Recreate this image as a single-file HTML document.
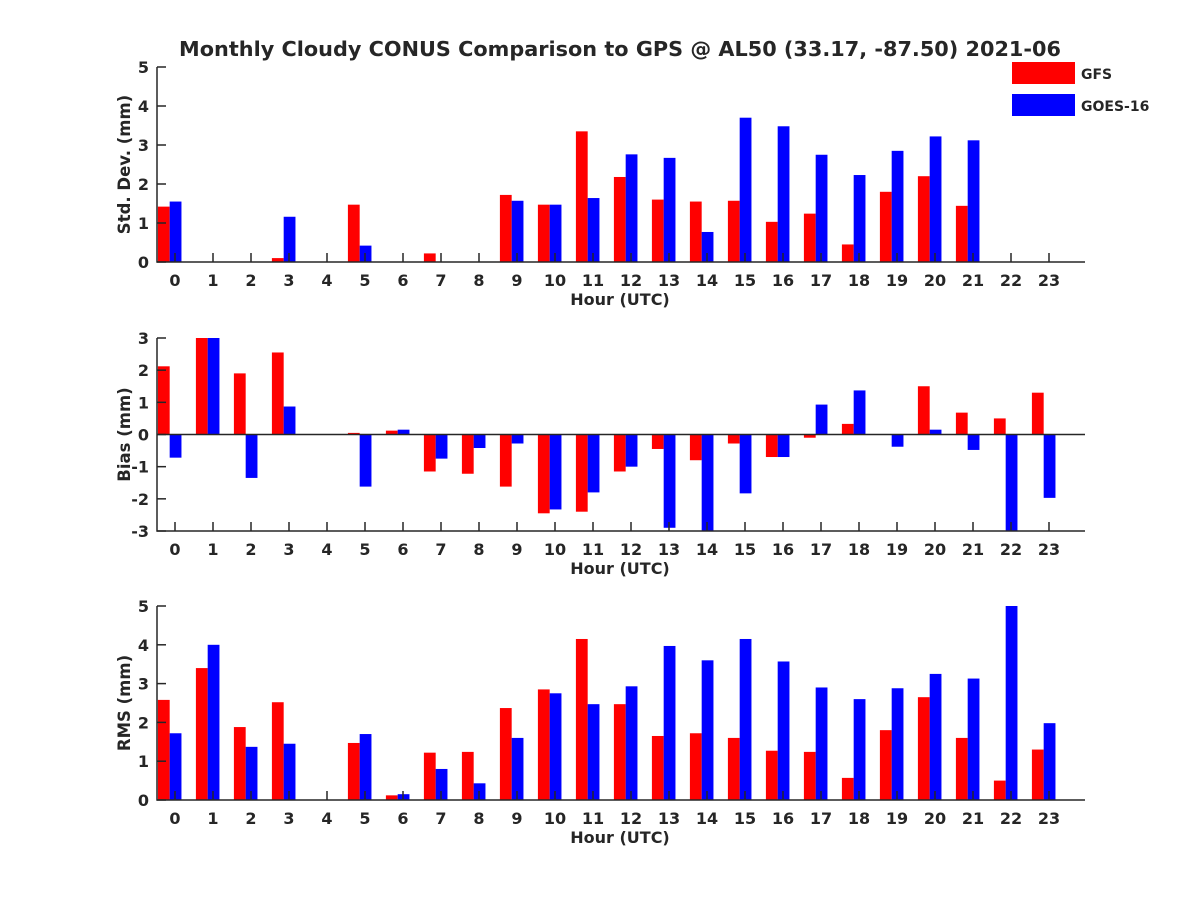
<!DOCTYPE html>
<html><head><meta charset="utf-8"><style>body{margin:0;background:#fff}svg{display:block}text{font-family:"DejaVu Sans","Liberation Sans",sans-serif;font-weight:bold;fill:#262626}</style></head>
<body>
<svg id="c" width="1200" height="900" xmlns="http://www.w3.org/2000/svg">
<text x="620" y="56" font-size="20.8" text-anchor="middle">Monthly Cloudy CONUS Comparison to GPS @ AL50 (33.17, -87.50) 2021-06</text>
<g>
<rect x="1012" y="62" width="63" height="22" fill="#ff0000"/>
<text x="1081" y="79" font-size="14">GFS</text>
<rect x="1012" y="94" width="63" height="22" fill="#0000ff"/>
<text x="1081" y="111" font-size="14">GOES-16</text>
</g>
</svg>
<script>
const hours=[0,1,2,3,4,5,6,7,8,9,10,11,12,13,14,15,16,17,18,19,20,21,22,23];
const stdGFS=[1.42,0,0,0.1,0,1.47,0,0.22,0,1.72,1.47,3.35,2.18,1.6,1.55,1.57,1.03,1.24,0.45,1.8,2.2,1.44,0,0];
const stdGOES=[1.55,0,0,1.16,0,0.42,0,0,0,1.57,1.47,1.64,2.76,2.67,0.77,3.7,3.48,2.75,2.23,2.85,3.22,3.12,0,0];
const biasGFS=[2.12,3.2,1.9,2.55,0,0.05,0.12,-1.15,-1.22,-1.62,-2.45,-2.4,-1.15,-0.45,-0.8,-0.28,-0.7,-0.1,0.33,0,1.5,0.68,0.5,1.3];
const biasGOES=[-0.72,3.2,-1.35,0.87,0,-1.62,0.15,-0.75,-0.42,-0.28,-2.33,-1.8,-1.0,-2.9,-3.2,-1.83,-0.7,0.93,1.37,-0.38,0.15,-0.48,-3.2,-1.97];
const rmsGFS=[2.58,3.4,1.88,2.52,0,1.47,0.12,1.22,1.24,2.37,2.85,4.15,2.47,1.65,1.72,1.6,1.27,1.24,0.57,1.8,2.65,1.6,0.5,1.3];
const rmsGOES=[1.72,4.0,1.37,1.45,0,1.7,0.15,0.8,0.43,1.6,2.75,2.47,2.93,3.97,3.6,4.15,3.57,2.9,2.6,2.88,3.25,3.13,5.0,1.98];
const stdTicks=[0,1,2,3,4,5];
const biasTicks=[-3,-2,-1,0,1,2,3];
const rmsTicks=[0,1,2,3,4,5];
const NS='http://www.w3.org/2000/svg';
const svg=document.getElementById('c');
function mk(t,a,p){const e=document.createElementNS(NS,t);for(const k in a)e.setAttribute(k,a[k]);(p||svg).appendChild(e);return e;}
const X0=157,X1=1085;
function xs(h){return 175+38*h;}
function panel(name,top,bot,ymin,ymax,ticks,ylabel,g1,g2){
  const g=mk('g',{});
  
  
  const ys=v=>bot-(Math.max(ymin,Math.min(ymax,v))-ymin)/(ymax-ymin)*(bot-top);
  const z=ys(Math.max(0,ymin));
  hours.forEach((h,i)=>{
    const a=ys(g1[i]);
    const r=mk('rect',{x:xs(h-0.45),y:Math.min(a,z),width:38*0.31,height:Math.abs(a-z),fill:'#ff0000'},g);
    
    
    const b=ys(g2[i]);
    const r2=mk('rect',{x:xs(h-0.14),y:Math.min(b,z),width:38*0.31,height:Math.abs(b-z),fill:'#0000ff'},g);
    
    
  });
  if(ymin<0){const zl=mk('line',{x1:X0,x2:X1,y1:z,y2:z,stroke:'#262626','stroke-width':1.5},g);
    }
  const ax=mk('path',{d:`M${X0},${top}V${bot}H${X1}`,fill:'none',stroke:'#262626','stroke-width':1.5},g);
  
  
  hours.forEach(h=>{
    mk('line',{x1:xs(h),x2:xs(h),y1:bot,y2:bot-9,stroke:'#262626','stroke-width':1.5},g);
    const t=mk('text',{x:xs(h),y:bot+24,'font-size':16,'text-anchor':'middle'},g);
    t.textContent=h;
    
    
  });
  ticks.forEach(v=>{
    const y=ys(v);
    mk('line',{x1:X0,x2:X0+9,y1:y,y2:y,stroke:'#262626','stroke-width':1.5},g);
    const t=mk('text',{x:X0-8,y:y+6,'font-size':16,'text-anchor':'end'},g);
    t.textContent=v;
    
    
  });
  const xl=mk('text',{x:620,y:bot+43,'font-size':16,'text-anchor':'middle'},g);
  xl.textContent='Hour (UTC)';
  
  
  const cy=(top+bot)/2;
  const yl=mk('text',{x:0,y:0,'font-size':16.5,'text-anchor':'middle',transform:`translate(130,${cy}) rotate(-90)`},g);
  yl.textContent=ylabel;
  
  
}
panel('std',67,262,0,5,stdTicks,'Std. Dev. (mm)',stdGFS,stdGOES);
panel('bias',338,531,-3,3,biasTicks,'Bias (mm)',biasGFS,biasGOES);
panel('rms',606,800,0,5,rmsTicks,'RMS (mm)',rmsGFS,rmsGOES);
</script>
</body></html>
